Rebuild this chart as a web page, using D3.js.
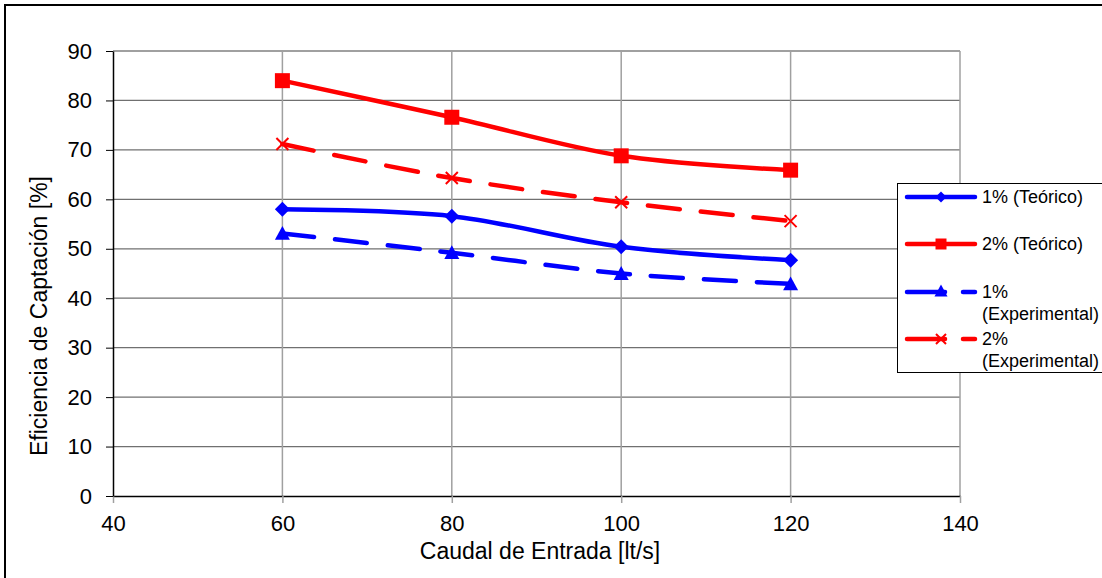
<!DOCTYPE html>
<html><head><meta charset="utf-8">
<script src="https://cdn.jsdelivr.net/npm/d3@7"></script>
<style>body{margin:0;background:#fff}svg{display:block}text{font-family:"Liberation Sans",Arial,sans-serif;fill:#000}</style>
</head><body><svg id="c" width="1102" height="578"></svg>
<script>
const caudal = [60, 80, 100, 120];
const teo1 = [58.0, 56.6, 50.4, 47.7];
const teo2 = [84.0, 76.6, 68.8, 65.9];
const exp1 = [53.1, 49.2, 45.0, 42.9];
const exp2 = [71.2, 64.3, 59.4, 55.6];
const xTicks = [40, 60, 80, 100, 120, 140];
const yTicks = [0, 10, 20, 30, 40, 50, 60, 70, 80, 90];
const seriesNames = ["1% (Teórico)", "2% (Teórico)", "1% (Experimental)", "2% (Experimental)"];

const series = [
  {name: seriesNames[0], vals: teo1, color: "#0000ff", dash: null, marker: "diamond"},
  {name: seriesNames[1], vals: teo2, color: "#ff0000", dash: null, marker: "square"},
  {name: seriesNames[2], vals: exp1, color: "#0000ff", dash: "32,21", marker: "triangle"},
  {name: seriesNames[3], vals: exp2, color: "#ff0000", dash: "32,21", marker: "x"}
];

const svg = d3.select("#c");
const L = 113, R = 960, T = 51, B = 496;
const x = d3.scaleLinear().domain([40, 140]).range([L, R]);
const y = d3.scaleLinear().domain([0, 90]).range([B, T]);

// outer border (top & left visible, rest clipped)
svg.append("rect").attr("x", 5).attr("y", 5).attr("width", 1110).attr("height", 600)
  .attr("fill", "none").attr("stroke", "#000").attr("stroke-width", 2);

// gridlines
svg.append("g").selectAll("line").data(yTicks.slice(1)).join("line")
  .attr("x1", L).attr("x2", R).attr("y1", d => y(d)).attr("y2", d => y(d))
  .attr("stroke", "#707070").attr("stroke-width", 1.2);
svg.append("g").selectAll("line").data(xTicks.slice(1)).join("line")
  .attr("y1", T).attr("y2", B).attr("x1", d => x(d)).attr("x2", d => x(d))
  .attr("stroke", "#a0a0a0").attr("stroke-width", 1.5);
svg.append("line").attr("x1", L).attr("x2", R).attr("y1", T).attr("y2", T).attr("stroke", "#a0a0a0").attr("stroke-width", 2);

// x axis
const xAxis = svg.append("g").attr("transform", `translate(0,${B})`)
  .call(d3.axisBottom(x).tickValues(xTicks).tickSize(7).tickSizeOuter(0).tickPadding(12));
xAxis.select(".domain").attr("stroke", "#000").attr("stroke-width", 1.5);
xAxis.selectAll(".tick line").attr("stroke", "#a0a0a0").attr("stroke-width", 1.5);
xAxis.selectAll("text").attr("font-size", 22).attr("fill", "#000").attr("font-family", "Liberation Sans, Arial, sans-serif");

// y axis
const yAxis = svg.append("g").attr("transform", `translate(${L},0)`)
  .call(d3.axisLeft(y).tickValues(yTicks).tickSize(7).tickSizeOuter(0).tickPadding(14));
yAxis.select(".domain").attr("stroke", "#000").attr("stroke-width", 1.5);
yAxis.selectAll(".tick line").attr("stroke", "#000").attr("stroke-width", 1);
yAxis.selectAll("text").attr("font-size", 22).attr("fill", "#000").attr("font-family", "Liberation Sans, Arial, sans-serif");

// axis titles
svg.append("text").attr("x", 540).attr("y", 559).attr("text-anchor", "middle").attr("font-size", 23)
  .text("Caudal de Entrada [lt/s]");
svg.append("text").attr("transform", "translate(47,316) rotate(-90)").attr("text-anchor", "middle").attr("font-size", 23)
  .text("Eficiencia de Captación [%]");

function markerPath(type, s) {
  const h = s / 2;
  if (type === "diamond") return `M0,${-h}L${h},0L0,${h}L${-h},0Z`;
  if (type === "square") return `M${-h},${-h}H${h}V${h}H${-h}Z`;
  if (type === "triangle") return `M0,${-h}L${h},${h*0.85}L${-h},${h*0.85}Z`;
  return `M${-h},${-h}L${h},${h}M${h},${-h}L${-h},${h}`;
}

const line = d3.line().x((d, i) => x(caudal[i])).y(d => y(d)).curve(d3.curveCardinal.tension(0));
const plot = svg.append("g");
series.forEach(s => {
  plot.append("path").attr("d", line(s.vals)).attr("fill", "none").attr("stroke", s.color)
    .attr("stroke-width", 4.5).attr("stroke-linecap", "round").attr("stroke-dasharray", s.dash);
});
series.forEach(s => {
  const size = s.marker === "x" ? 12 : 15;
  plot.append("g").selectAll("path").data(s.vals).join("path")
    .attr("transform", (d, i) => `translate(${x(caudal[i])},${y(d)})`)
    .attr("d", markerPath(s.marker, size))
    .attr("fill", s.marker === "x" ? "none" : s.color)
    .attr("stroke", s.color).attr("stroke-width", s.marker === "x" ? 2 : 0);
});

// legend
const lg = svg.append("g");
lg.append("rect").attr("x", 897.5).attr("y", 183.5).attr("width", 210).attr("height", 189)
  .attr("fill", "#fff").attr("stroke", "#000").attr("stroke-width", 1);
const rowsY = [197, 244, 292, 339];
series.forEach((s, i) => {
  const ly = rowsY[i];
  if (s.dash) {
    lg.append("line").attr("x1", 907).attr("x2", 945).attr("y1", ly).attr("y2", ly)
      .attr("stroke", s.color).attr("stroke-width", 4.5).attr("stroke-linecap", "round");
    lg.append("line").attr("x1", 963).attr("x2", 975).attr("y1", ly).attr("y2", ly)
      .attr("stroke", s.color).attr("stroke-width", 4.5).attr("stroke-linecap", "round");
  } else {
    lg.append("line").attr("x1", 907).attr("x2", 975).attr("y1", ly).attr("y2", ly)
      .attr("stroke", s.color).attr("stroke-width", 4.5).attr("stroke-linecap", "round");
  }
  const ms = s.marker === "x" ? 10 : (s.marker === "triangle" ? 13 : 11);
  lg.append("path").attr("transform", `translate(941,${ly - (s.marker === "triangle" ? 1 : 0)})`).attr("d", markerPath(s.marker, ms))
    .attr("fill", s.marker === "x" ? "none" : s.color).attr("stroke", s.color)
    .attr("stroke-width", s.marker === "x" ? 2 : 0);
  const parts = s.name.startsWith("1% (E") || s.name.startsWith("2% (E") ? [s.name.slice(0, 2), s.name.slice(3)] : [s.name];
  parts.forEach((p, j) => {
    lg.append("text").attr("x", 982).attr("y", ly + 6 + j * 22).attr("font-size", 18).text(p);
  });
});
</script></body></html>
